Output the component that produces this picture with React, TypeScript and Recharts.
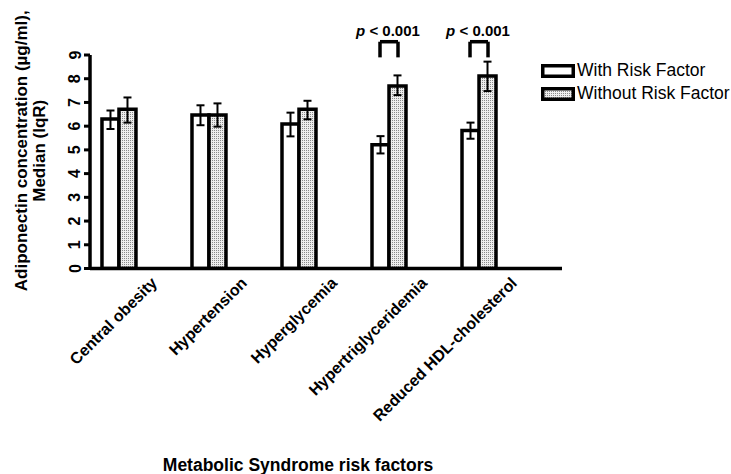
import React from 'react'
import { BarChart, Bar, XAxis, YAxis, ErrorBar, ReferenceLine, Legend, Label } from 'recharts'

// Metabolic syndrome risk factors vs adiponectin (median, IqR)
const categories = ['Central obesity', 'Hypertension', 'Hyperglycemia', 'Hypertriglyceridemia', 'Reduced HDL-cholesterol']
const withMedian = [6.3, 6.47, 6.09, 5.22, 5.82]
const withLow = [5.88, 6.04, 5.57, 4.85, 5.47]
const withHigh = [6.66, 6.88, 6.57, 5.58, 6.15]
const withoutMedian = [6.71, 6.47, 6.71, 7.69, 8.12]
const withoutLow = [6.15, 5.98, 6.29, 7.31, 7.48]
const withoutHigh = [7.21, 6.96, 7.07, 8.14, 8.72]
const yTicks = [0, 1, 2, 3, 4, 5, 6, 7, 8, 9]
const significant = ['Hypertriglyceridemia', 'Reduced HDL-cholesterol']
const pValue = '0.001'
const seriesNames = ['With Risk Factor', 'Without Risk Factor']

const FONT = '"Liberation Sans", Arial, sans-serif'

const data = categories.map((name, i) => ({
  pos: i,
  name,
  withRF: withMedian[i],
  withErr: [withMedian[i] - withLow[i], withHigh[i] - withMedian[i]],
  withoutRF: withoutMedian[i],
  withoutErr: [withoutMedian[i] - withoutLow[i], withoutHigh[i] - withoutMedian[i]],
}))

const sigPositions = significant.map((s) => categories.indexOf(s))
const legOffset = 0.1
const bracketTop = 9.56
const bracketFoot = 8.9

const XTick = ({ x, y, payload }: any) => (
  <text
    x={x + 39}
    y={y + 15.5}
    textAnchor="end"
    transform={`rotate(-45 ${x + 39} ${y + 15.5})`}
    fontFamily={FONT}
    fontWeight="bold"
    fontSize={16}
    fill="#000"
  >
    {categories[payload.value]}
  </text>
)

const YTick = ({ x, y, payload }: any) => (
  <text
    x={x - 9}
    y={y}
    textAnchor="middle"
    dominantBaseline="central"
    transform={`rotate(-90 ${x - 9} ${y})`}
    fontFamily={FONT}
    fontWeight="bold"
    fontSize={16}
    fill="#000"
  >
    {payload.value}
  </text>
)

const YTitle = ({ viewBox }: any) => {
  const cy = viewBox.y + viewBox.height / 2 - 11
  return (
    <g fontFamily={FONT} fontWeight="bold" fontSize={17} fill="#000">
      <text x={27} y={cy} textAnchor="middle" transform={`rotate(-90 27 ${cy})`}>
        Adiponectin concentration (µg/ml),
      </text>
      <text x={45} y={cy} textAnchor="middle" transform={`rotate(-90 45 ${cy})`}>
        Median (IqR)
      </text>
    </g>
  )
}

const XTitle = ({ viewBox }: any) => (
  <text
    x={viewBox.x + 208}
    y={viewBox.y + 202.5}
    textAnchor="middle"
    fontFamily={FONT}
    fontWeight="bold"
    fontSize={17.5}
    fill="#000"
  >
    Metabolic Syndrome risk factors
  </text>
)

const PLabel = ({ viewBox }: any) => (
  <text
    x={viewBox.x + viewBox.width / 2 - 1}
    y={viewBox.y - 6}
    textAnchor="middle"
    fontFamily={FONT}
    fontWeight="bold"
    fontSize={15}
    fill="#000"
  >
    <tspan fontStyle="italic">p</tspan> &lt; {pValue}
  </text>
)

const LegendBox = ({ fill }: { fill: string }) => (
  <svg width={34} height={14} style={{ display: 'block' }}>
    <defs>
      <pattern id="dotsLegend" width="2" height="2" patternUnits="userSpaceOnUse">
        <rect width="2" height="2" fill="#eeeeee" />
        <rect width="1" height="1" fill="#8a8a8a" />
      </pattern>
    </defs>
    <rect x={1.75} y={1.75} width={30.5} height={10.5} fill={fill} stroke="#000" strokeWidth={3.5} />
  </svg>
)

const LegendContent = () => (
  <div style={{ fontFamily: FONT, fontSize: 17.5, color: '#000', lineHeight: '23px' }}>
    {seriesNames.map((n, i) => (
      <div key={n} style={{ display: 'flex', alignItems: 'center', gap: 2 }}>
        <LegendBox fill={i === 0 ? '#fff' : 'url(#dotsLegend)'} />
        <span>{n}</span>
      </div>
    ))}
  </div>
)

export default function App() {
  return (
    <div style={{ position: 'absolute', left: 0, top: 0, width: 731, height: 474, background: '#fff' }}>
      <BarChart
        width={731}
        height={474}
        data={data}
        margin={{ top: 55, right: 169, bottom: 0, left: 0 }}
        barGap={0}
      >
        <defs>
          <pattern id="dots" width="2" height="2" patternUnits="userSpaceOnUse">
            <rect width="2" height="2" fill="#eeeeee" />
            <rect width="1" height="1" fill="#8a8a8a" />
          </pattern>
        </defs>
        <XAxis
          type="number"
          dataKey="pos"
          domain={[-0.322, 4.922]}
          ticks={[0, 1, 2, 3, 4]}
          allowDataOverflow
          interval={0}
          height={205.5}
          tickLine={false}
          tickSize={0}
          tickMargin={0}
          axisLine={{ stroke: '#000', strokeWidth: 3.5 }}
          tick={<XTick />}
        >
          <Label content={<XTitle />} />
        </XAxis>
        <YAxis
          domain={[0, 9]}
          ticks={yTicks}
          allowDataOverflow
          width={90}
          interval={0}
          tickSize={6}
          tickMargin={0}
          tickLine={{ stroke: '#000', strokeWidth: 3 }}
          axisLine={{ stroke: '#000', strokeWidth: 3.5 }}
          tick={<YTick />}
        >
          <Label content={<YTitle />} />
        </YAxis>
        <Legend
          content={<LegendContent />}
          layout="horizontal"
          verticalAlign="middle"
          align="center"
          wrapperStyle={{ position: 'absolute', left: 541, top: 59, width: 190 }}
        />
        <Bar dataKey="withRF" name={seriesNames[0]} barSize={17} fill="#fff" stroke="#000" strokeWidth={3.5} isAnimationActive={false}>
          <ErrorBar dataKey="withErr" width={4} stroke="#000" strokeWidth={2} />
        </Bar>
        <Bar dataKey="withoutRF" name={seriesNames[1]} barSize={17} fill="url(#dots)" stroke="#000" strokeWidth={3.5} isAnimationActive={false}>
          <ErrorBar dataKey="withoutErr" width={4} stroke="#000" strokeWidth={2} />
        </Bar>
        {sigPositions.map((p) => (
          <ReferenceLine
            key={`l${p}`}
            segment={[{ x: p - legOffset, y: bracketFoot }, { x: p - legOffset, y: bracketTop }]}
            stroke="#000"
            strokeWidth={3.5}
            ifOverflow="visible"
          />
        ))}
        {sigPositions.map((p) => (
          <ReferenceLine
            key={`r${p}`}
            segment={[{ x: p + legOffset, y: bracketFoot }, { x: p + legOffset, y: bracketTop }]}
            stroke="#000"
            strokeWidth={3.5}
            ifOverflow="visible"
          />
        ))}
        {sigPositions.map((p) => (
          <ReferenceLine
            key={`t${p}`}
            segment={[{ x: p - legOffset, y: bracketTop }, { x: p + legOffset, y: bracketTop }]}
            stroke="#000"
            strokeWidth={3.5}
            ifOverflow="visible"
            label={<PLabel />}
          />
        ))}
      </BarChart>
    </div>
  )
}
